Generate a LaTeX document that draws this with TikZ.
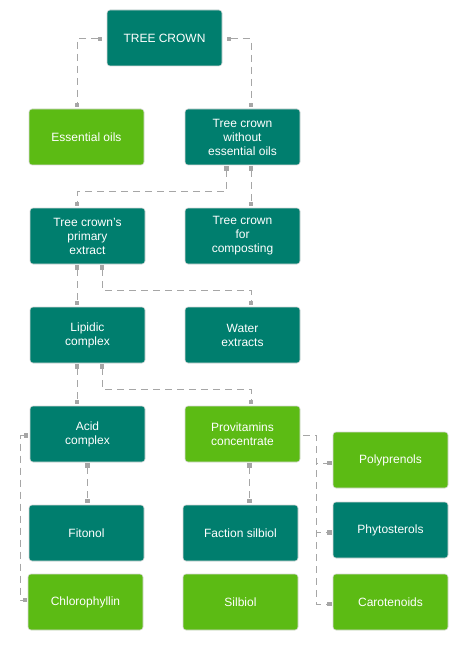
\documentclass[tikz,border=0pt]{standalone}
\usepackage{fontspec}
\setmainfont{Liberation Sans}
\usetikzlibrary{arrows.meta}
\definecolor{tealbox}{HTML}{007E6E}
\definecolor{greenbox}{HTML}{5CBB14}
\definecolor{conngray}{HTML}{A6A6A6}
\definecolor{edgegray}{HTML}{DADADA}
\tikzset{
  box/.style={rectangle, rounded corners=3pt, minimum width=115pt, minimum height=56pt,
    inner sep=0pt, align=center, text=white, draw=edgegray, line width=0.6pt,
    font=\fontsize{12pt}{14pt}\selectfont},
  tealnode/.style={box, fill=tealbox},
  greennode/.style={box, fill=greenbox},
  conn/.style={draw=conngray, line width=1pt, dash pattern=on 7pt off 5pt,
    {Square[length=4.5pt,width=4.5pt,fill=conngray]}-{Square[length=4.5pt,width=4.5pt,fill=conngray]}},
  connh/.style={draw=conngray, line width=1pt, dash pattern=on 7pt off 5pt,
    -{Square[length=4.5pt,width=4.5pt,fill=conngray]}}
}
\begin{document}
\begin{tikzpicture}[x=1pt,y=-1pt]
\path[use as bounding box, fill=white] (0,0) rectangle (465,647);
% nodes
\node[tealnode]  (tc)    at (164.5,38)  {TREE CROWN};
\node[greennode] (eo)    at (86.5,137)  {Essential oils};
\node[tealnode]  (tw)    at (242.5,137) {Tree crown\\without\\essential oils};
\node[tealnode]  (pe)    at (87.5,236)  {Tree crown’s\\primary\\extract};
\node[tealnode]  (tcomp) at (242.5,236) {Tree crown\\for\\composting};
\node[tealnode]  (lc)    at (87.5,335)  {Lipidic\\complex};
\node[tealnode]  (we)    at (242.5,335) {Water\\extracts};
\node[tealnode]  (ac)    at (87.5,434)  {Acid\\complex};
\node[greennode] (pc)    at (242.5,434) {Provitamins\\concentrate};
\node[greennode] (pp)    at (390.5,460) {Polyprenols};
\node[tealnode]  (fi)    at (86.5,533)  {Fitonol};
\node[tealnode]  (fs)    at (240.5,533) {Faction silbiol};
\node[tealnode]  (ph)    at (390.5,530) {Phytosterols};
\node[greennode] (ch)    at (85.5,602)  {Chlorophyllin};
\node[greennode] (si)    at (240.5,602) {Silbiol};
\node[greennode] (ca)    at (390.5,602) {Carotenoids};
% connectors
\draw[conn] ([xshift=-4.5pt,yshift=-1pt]tc.west) -| ([xshift=-9.5pt,yshift=1.5pt]eo.north);
\draw[conn] ([xshift=4.5pt,yshift=-1pt]tc.east) -| ([xshift=8.5pt,yshift=1.5pt]tw.north);
\draw[conn] ([xshift=-16pt,yshift=-1pt]tw.south) -- ++(0,25) -| ([xshift=-10.5pt,yshift=1.5pt]pe.north);
\draw[conn] ([xshift=8.5pt,yshift=-1pt]tw.south) -- ([xshift=8.5pt,yshift=1.5pt]tcomp.north);
\draw[conn] ([xshift=-10.5pt,yshift=-1pt]pe.south) -- ([xshift=-10.5pt,yshift=1.5pt]lc.north);
\draw[conn] ([xshift=14.5pt,yshift=-1pt]pe.south) -- ++(0,25) -| ([xshift=8.5pt,yshift=1.5pt]we.north);
\draw[conn] ([xshift=-10.5pt,yshift=-1pt]lc.south) -- ([xshift=-10.5pt,yshift=1.5pt]ac.north);
\draw[conn] ([xshift=14.5pt,yshift=-1pt]lc.south) -- ++(0,25) -| ([xshift=8.5pt,yshift=1.5pt]pc.north);
\draw[conn] ([xshift=-1.3pt,yshift=-1.5pt]ac.west) -- ++(-8,0) |- ([xshift=-0.7pt,yshift=2pt]ch.west);
\draw[conn] ([yshift=-1pt]ac.south) -- ([xshift=1pt,yshift=1.5pt]fi.north);
\draw[conn] ([xshift=7pt,yshift=-1pt]pc.south) -- ([xshift=9pt,yshift=1.5pt]fs.north);
\draw[connh] ([xshift=3pt,yshift=-1pt]pc.east) -- ++(13,0) |- ([xshift=-1pt,yshift=-3pt]pp.west);
\draw[connh] ([xshift=3pt,yshift=-1pt]pc.east) -- ++(13,0) |- ([xshift=-1pt,yshift=-2.5pt]ph.west);
\draw[connh] ([xshift=3pt,yshift=-1pt]pc.east) -- ++(13,0) |- ([xshift=-1pt,yshift=-2pt]ca.west);
\end{tikzpicture}
\end{document}
